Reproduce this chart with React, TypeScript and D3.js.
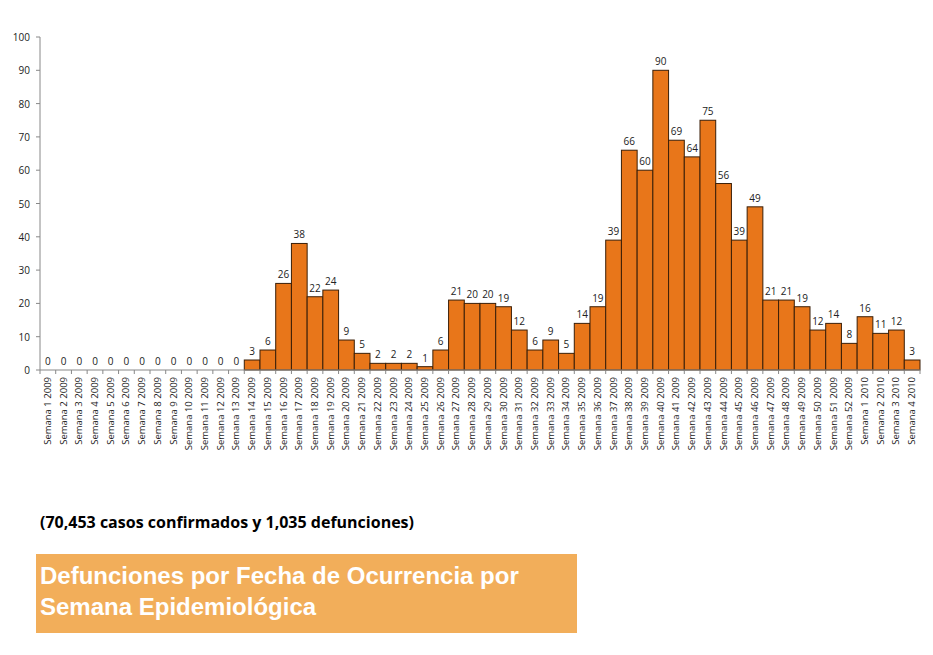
import * as d3 from "d3";

const weeks: string[] = [
  ...d3.range(1, 53).map((w) => `Semana ${w} 2009`),
  ...d3.range(1, 5).map((w) => `Semana ${w} 2010`),
];
const deaths: number[] = [
  0, 0, 0, 0, 0, 0, 0, 0, 0, 0, 0, 0, 0, 3, 6, 26, 38, 22, 24, 9, 5, 2, 2, 2, 1, 6,
  21, 20, 20, 19, 12, 6, 9, 5, 14, 19, 39, 66, 60, 90, 69, 64, 75, 56, 39, 49, 21, 21,
  19, 12, 14, 8, 16, 11, 12, 3,
];
const yTicks = [0, 10, 20, 30, 40, 50, 60, 70, 80, 90, 100];

export default function App() {
  const W = 933, H = 655;
  const x = d3.scaleBand<string>().domain(weeks).range([40, 920]).padding(0);
  const y = d3.scaleLinear().domain([0, 100]).range([370, 37]);
  const font = "'Open Sans', 'DejaVu Sans', sans-serif";

  return (
    <svg width={W} height={H} style={{ position: "absolute", left: 0, top: 0, background: "#fff" }}>
      {/* y axis */}
      <line x1={40} x2={40} y1={y(100)} y2={y(0)} stroke="#888" />
      {yTicks.map((t) => (
        <g key={t}>
          <line x1={36} x2={40} y1={y(t)} y2={y(t)} stroke="#888" />
          <text x={30} y={y(t) + 4} textAnchor="end" fontSize={10} fontFamily={font} fill="#222">{t}</text>
        </g>
      ))}
      {/* bars */}
      {weeks.map((w, i) => (
        <g key={w}>
          {deaths[i] > 0 && (
            <rect x={x(w)!} y={y(deaths[i])} width={x.bandwidth()} height={y(0) - y(deaths[i])}
              fill="#E8761A" stroke="#3a1f08" strokeWidth={1} />
          )}
          <text x={x(w)! + x.bandwidth() / 2} y={y(deaths[i]) - 5} textAnchor="middle" fontSize={10}
            fontFamily={font} fill="#222">{deaths[i]}</text>
        </g>
      ))}
      {/* x axis */}
      <line x1={40} x2={920} y1={y(0)} y2={y(0)} stroke="#888" />
      {weeks.map((w) => (
        <g key={w + "t"}>
          <line x1={x(w)!} x2={x(w)!} y1={370} y2={374} stroke="#888" />
          <text transform={`translate(${x(w)! + x.bandwidth() / 2 + 3},377) rotate(-90)`} textAnchor="end"
            fontSize={9.5} fontFamily={font} fill="#222">{w}</text>
        </g>
      ))}
      <line x1={920} x2={920} y1={370} y2={374} stroke="#888" />
      <text x={40} y={528} fontSize={16} fontWeight="bold" fontFamily={font} fill="#000">
        (70,453 casos confirmados y 1,035 defunciones)
      </text>
      <rect x={36} y={554} width={541} height={79} fill="#F2AE5A" />
      <text fontSize={24} fontWeight="bold" fontFamily="'Liberation Sans', Arial, sans-serif" fill="#fff">
        <tspan x={40} y={584}>Defunciones por Fecha de Ocurrencia por</tspan>
        <tspan x={40} y={615}>Semana Epidemiológica</tspan>
      </text>
    </svg>
  );
}
